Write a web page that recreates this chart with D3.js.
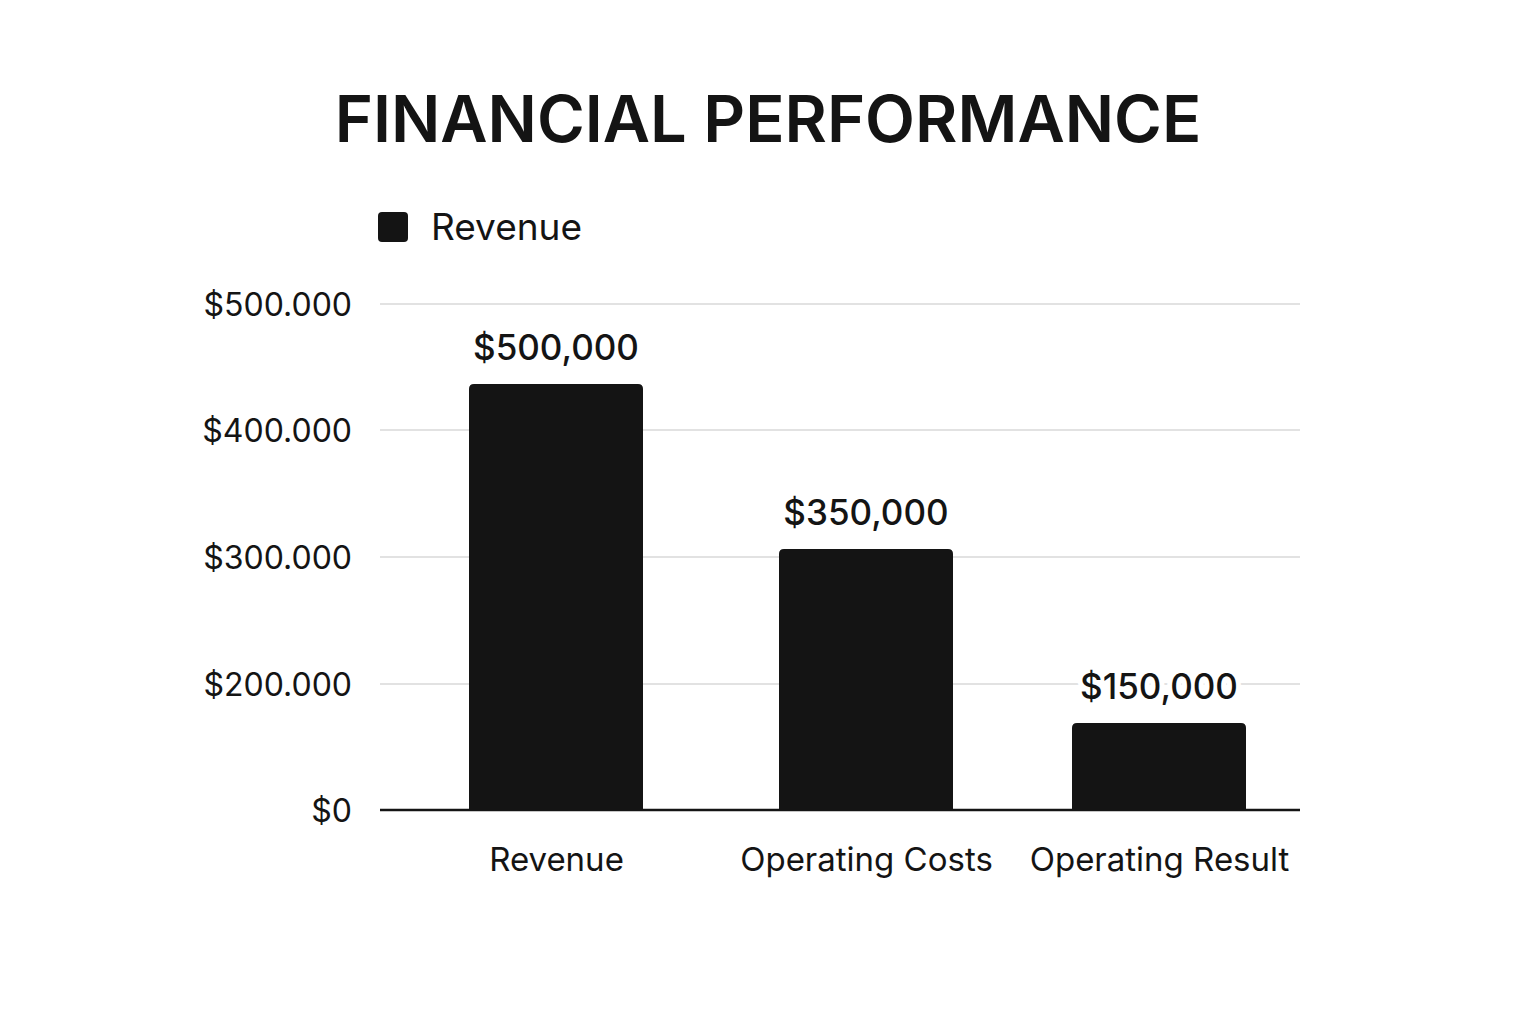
<!DOCTYPE html>
<html>
<head>
<meta charset="utf-8">
<script src="https://cdn.jsdelivr.net/npm/d3@7"></script>
<style>
  html, body { margin: 0; padding: 0; background: #fff; }
  svg { display: block; font-family: Inter, "Noto Sans", sans-serif; }
</style>
</head>
<body>
<svg id="chart" width="1536" height="1024"></svg>
<script>
// ---- data ----
const title = "FINANCIAL PERFORMANCE";
const seriesName = "Revenue";
const categories = ["Revenue", "Operating Costs", "Operating Result"];
// bar heights as drawn against the axis in the picture
const barValues = [436500, 306300, 138100];
// value labels printed above the bars
const valueLabels = ["$500,000", "$350,000", "$150,000"];
// tick values shown on the y axis (no $100.000 tick in the original)
const tickValues = [0, 200000, 300000, 400000, 500000];

const svg = d3.select("#chart");
const ink = "#141414";

const locale = d3.formatLocale({ decimal: ",", thousands: ".", grouping: [3], currency: ["$", ""] });
const fmtTick = locale.format("$,.0f");

// polylinear y scale matching the evenly spaced (uneven value) ticks
const y = d3.scaleLinear()
  .domain(tickValues)
  .range([810, 684, 557, 430, 304]);

// category centres (unevenly spaced in the original)
const x = d3.scaleOrdinal()
  .domain(categories)
  .range([556, 866, 1159]);
const barW = 174;
const plotLeft = 380, plotRight = 1300;

// title
svg.append("text")
  .attr("x", 768).attr("y", 142)
  .attr("text-anchor", "middle")
  .attr("font-size", 65).attr("font-weight", 600)
  .attr("fill", ink)
  .text(title);

// legend
svg.append("rect")
  .attr("x", 378).attr("y", 212).attr("width", 30).attr("height", 30)
  .attr("rx", 4).attr("fill", ink);
svg.append("text")
  .attr("x", 431).attr("y", 240)
  .attr("font-size", 37).attr("fill", ink)
  .text(seriesName);

// gridlines
svg.append("g")
  .selectAll("line")
  .data(tickValues.filter(d => d > 0))
  .join("line")
  .attr("x1", plotLeft).attr("x2", plotRight)
  .attr("y1", d => y(d)).attr("y2", d => y(d))
  .attr("stroke", "#e2e2e2").attr("stroke-width", 2);

// y axis labels
const yAxis = d3.axisLeft(y).tickValues(tickValues).tickFormat(d => d === 0 ? "$0" : fmtTick(d)).tickSize(0).tickPadding(0);
const gy = svg.append("g").attr("transform", "translate(352,0)").call(yAxis);
gy.select(".domain").remove();
gy.selectAll("text")
  .attr("font-size", 32).attr("font-family", "Inter, 'Noto Sans', sans-serif")
  .attr("fill", ink).attr("dy", "0.35em");

// bars with rounded top corners
const r = 5;
function barPath(d, i) {
  const cx = x(categories[i]);
  const x0 = cx - barW / 2, x1 = cx + barW / 2;
  const yt = y(d), yb = y(0);
  return `M${x0},${yb}V${yt + r}Q${x0},${yt} ${x0 + r},${yt}H${x1 - r}Q${x1},${yt} ${x1},${yt + r}V${yb}Z`;
}
svg.append("g")
  .selectAll("path")
  .data(barValues)
  .join("path")
  .attr("d", barPath)
  .attr("fill", ink);

// baseline
svg.append("line")
  .attr("x1", plotLeft).attr("x2", plotRight)
  .attr("y1", y(0)).attr("y2", y(0))
  .attr("stroke", ink).attr("stroke-width", 2.5);

// value labels
svg.append("g")
  .selectAll("text")
  .data(barValues)
  .join("text")
  .attr("x", (d, i) => x(categories[i]))
  .attr("y", d => y(d) - 24)
  .attr("text-anchor", "middle")
  .attr("font-size", 35).attr("font-weight", 500)
  .attr("fill", ink)
  .attr("stroke", "#fff").attr("stroke-width", 10).attr("paint-order", "stroke")
  .text((d, i) => valueLabels[i]);

// category labels
const xAxis = d3.axisBottom(x).tickSize(0).tickPadding(0);
const gx = svg.append("g").attr("transform", "translate(0,871)").call(xAxis);
gx.select(".domain").remove();
gx.selectAll("text")
  .attr("font-size", 33).attr("font-family", "Inter, 'Noto Sans', sans-serif")
  .attr("fill", ink).attr("dy", 0);
</script>
</body>
</html>
